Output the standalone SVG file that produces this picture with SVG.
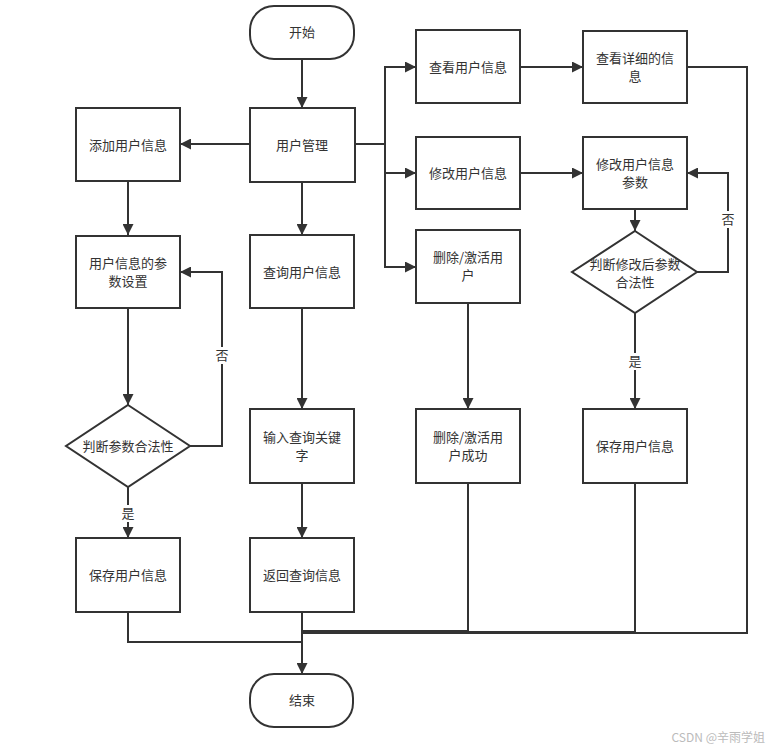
<svg xmlns="http://www.w3.org/2000/svg" width="774" height="751" viewBox="0 0 774 751">
<style>
.n{fill:#fff;stroke:#333;stroke-width:2}
.t{font-family:"Noto Sans CJK SC","Liberation Sans",sans-serif;font-size:13px;fill:#333;text-anchor:middle}
.c{fill:none;stroke:#333;stroke-width:2}
.a{marker-end:url(#ar)}
.lb{fill:#fff}
</style>
<defs>
<marker id="ar" markerUnits="userSpaceOnUse" markerWidth="11" markerHeight="11" refX="11" refY="5.5" orient="auto">
<path d="M0,0 L11,5.5 L0,11 z" fill="#333"/>
</marker>
</defs>
<rect width="774" height="751" fill="#fff"/>
<g id="connectors">
<path class="c a" d="M302,60 V108"/>
<path class="c a" d="M250,144 H180"/>
<path class="c" d="M355,144 H385"/>
<path class="c a" d="M385,144 V67 H416"/>
<path class="c a" d="M385,144 V173 H416"/>
<path class="c a" d="M385,144 V267 H416"/>
<path class="c a" d="M302,182 V235"/>
<path class="c a" d="M128,181 V235"/>
<path class="c a" d="M128,308 V405"/>
<path class="c a" d="M190,446 H222 V272 H180"/>
<path class="c a" d="M128,487 V538"/>
<path class="c a" d="M302,308 V409"/>
<path class="c a" d="M302,483 V538"/>
<path class="c a" d="M520,67 H583"/>
<path class="c a" d="M520,173 H583"/>
<path class="c a" d="M635,209 V231"/>
<path class="c a" d="M697,272 H728 V173 H687"/>
<path class="c a" d="M635,313 V409"/>
<path class="c a" d="M468,303 V409"/>
<path class="c" d="M687,67 H747 V633 H302"/>
<path class="c" d="M635,483 V632 H302"/>
<path class="c" d="M468,483 V631 H302"/>
<path class="c" d="M128,612 V642 H302"/>
<path class="c a" d="M302,612 V674"/>
<rect class="lb" x="214" y="347" width="16" height="17"/>
<text class="t" x="222" y="360">否</text>
<rect class="lb" x="120" y="505" width="16" height="17"/>
<text class="t" x="128" y="518">是</text>
<rect class="lb" x="720" y="211" width="16" height="17"/>
<text class="t" x="728" y="224">否</text>
<rect class="lb" x="627" y="353" width="16" height="17"/>
<text class="t" x="635" y="366">是</text>
</g>
<g id="start"><rect class="n" x="250" y="6" width="104" height="53" rx="24"/><text class="t" x="302" y="37">开始</text></g>
<g id="user-mgmt"><rect class="n" x="250" y="108" width="105" height="74"/><text class="t" x="302" y="150">用户管理</text></g>
<g id="view-user"><rect class="n" x="416" y="30" width="104" height="73"/><text class="t" x="468" y="72">查看用户信息</text></g>
<g id="view-detail"><rect class="n" x="583" y="31" width="104" height="72"/><text class="t" x="635" y="63">查看详细的信</text><text class="t" x="635" y="81">息</text></g>
<g id="add-user"><rect class="n" x="76" y="108" width="104" height="73"/><text class="t" x="128" y="150">添加用户信息</text></g>
<g id="edit-user"><rect class="n" x="416" y="137" width="104" height="72"/><text class="t" x="468" y="178">修改用户信息</text></g>
<g id="edit-param"><rect class="n" x="583" y="137" width="104" height="72"/><text class="t" x="635" y="169">修改用户信息</text><text class="t" x="635" y="187">参数</text></g>
<g id="param-set"><rect class="n" x="76" y="236" width="104" height="72"/><text class="t" x="128" y="268">用户信息的参</text><text class="t" x="128" y="286">数设置</text></g>
<g id="query-user"><rect class="n" x="250" y="235" width="104" height="73"/><text class="t" x="302" y="277">查询用户信息</text></g>
<g id="del-user"><rect class="n" x="416" y="230" width="104" height="73"/><text class="t" x="468" y="262">删除/激活用</text><text class="t" x="468" y="280">户</text></g>
<g id="check-edit"><path class="n" d="M635,231 L697,272 L635,313 L572,272 z"/><text class="t" x="635" y="269">判断修改后参数</text><text class="t" x="635" y="287">合法性</text></g>
<g id="check-param"><path class="n" d="M128,405 L190,446 L128,487 L66,446 z"/><text class="t" x="128" y="451">判断参数合法性</text></g>
<g id="input-key"><rect class="n" x="250" y="409" width="104" height="74"/><text class="t" x="302" y="442">输入查询关键</text><text class="t" x="302" y="460">字</text></g>
<g id="del-ok"><rect class="n" x="416" y="409" width="104" height="74"/><text class="t" x="468" y="442">删除/激活用</text><text class="t" x="468" y="460">户成功</text></g>
<g id="save-right"><rect class="n" x="583" y="409" width="104" height="74"/><text class="t" x="635" y="451">保存用户信息</text></g>
<g id="save-left"><rect class="n" x="76" y="538" width="104" height="74"/><text class="t" x="128" y="580">保存用户信息</text></g>
<g id="return-query"><rect class="n" x="250" y="538" width="104" height="74"/><text class="t" x="302" y="580">返回查询信息</text></g>
<g id="end"><rect class="n" x="250" y="674" width="103" height="53" rx="24"/><text class="t" x="302" y="705">结束</text></g>
<text x="765" y="742" style="font-family:'Noto Sans CJK SC','Liberation Sans',sans-serif;font-size:12px;fill:#bbb;text-anchor:end">CSDN @辛雨学姐</text>
</svg>
